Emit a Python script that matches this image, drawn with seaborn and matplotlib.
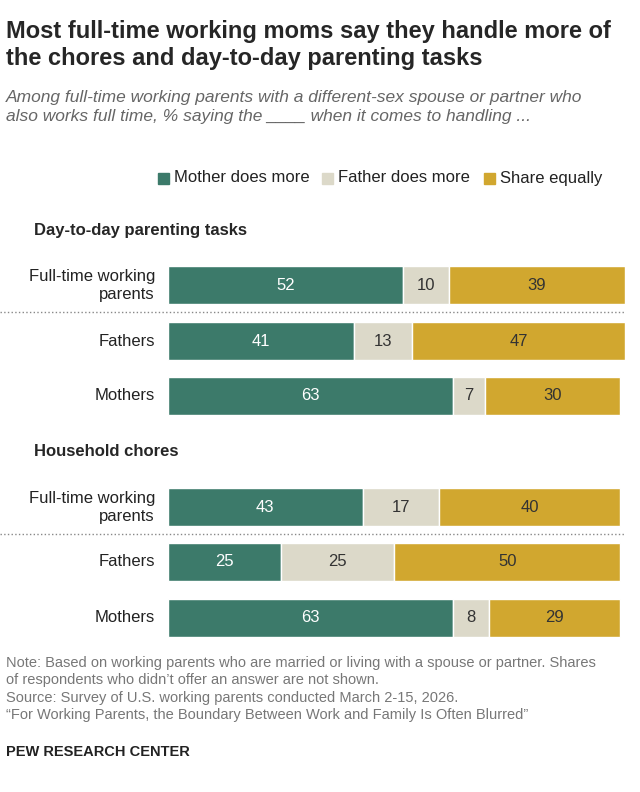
import matplotlib.pyplot as plt
import seaborn as sns

sns.set_style("white")
plt.rcParams['font.family'] = ['Liberation Sans', 'DejaVu Sans']

groups = ["Full-time working\nparents", "Fathers", "Mothers"]
parenting_mother = [52, 41, 63]
parenting_father = [10, 13, 7]
parenting_equal = [39, 47, 30]
chores_mother = [43, 25, 63]
chores_father = [17, 25, 8]
chores_equal = [40, 50, 29]

c_mother = "#3c7a6a"
c_father = "#dcd9c9"
c_equal = "#d1a72f"

W, H = 640, 792
fig = plt.figure(figsize=(6.4, 7.92), dpi=100)
x0, x1 = 168, 625
ax = fig.add_axes([x0 / W, 0, (x1 - x0) / W, 1])
ax.set_xlim(0, 101)
ax.set_ylim(H, 0)
ax.axis("off")

def px(x):
    return (x - x0) / (x1 - x0) * 101

def section(ys, mother, father, equal):
    ax.barh(ys, mother, height=38, color=c_mother)
    ax.barh(ys, father, left=mother, height=38, color=c_father)
    left3 = [m + f for m, f in zip(mother, father)]
    ax.barh(ys, equal, left=left3, height=38, color=c_equal)
    for y, m, f, e, g in zip(ys, mother, father, equal, groups):
        ax.text(m / 2, y, str(m), color="white", ha="center", va="center", fontsize=12)
        ax.text(m + f / 2, y, str(f), color="#333333", ha="center", va="center", fontsize=12)
        ax.text(m + f + e / 2, y, str(e), color="#333333", ha="center", va="center", fontsize=12)
        ax.text(px(155), y, g, ha="right", va="center", fontsize=12, color="#222222",
                linespacing=1.25, clip_on=False)
    ax.plot([px(0), px(625)], [ys[0] + 27, ys[0] + 27], ls=":", color="#888888", lw=1, clip_on=False)

section([285, 341, 396], parenting_mother, parenting_father, parenting_equal)
section([507, 562, 618], chores_mother, chores_father, chores_equal)

ax.text(px(34), 230, "Day-to-day parenting tasks", fontsize=12, fontweight="bold", va="center", clip_on=False)
ax.text(px(34), 452, "Household chores", fontsize=12, fontweight="bold", va="center", clip_on=False)

fig.text(6 / W, 1 - 20 / H, "Most full-time working moms say they handle more of\nthe chores and day-to-day parenting tasks",
         fontsize=17, fontweight="bold", va="top", linespacing=1.2)
fig.text(6 / W, 1 - 90 / H, "Among full-time working parents with a different-sex spouse or partner who\nalso works full time, % saying the ____ when it comes to handling ...",
         fontsize=12.5, style="italic", color="#666666", va="top", linespacing=1.3)

# legend
for xs, lab, c in [(158, "Mother does more", c_mother), (322, "Father does more", c_father), (484, "Share equally", c_equal)]:
    fig.patches.append(plt.Rectangle((xs / W, 1 - 184 / H), 11 / W, 11 / H, color=c, transform=fig.transFigure))
    fig.text((xs + 16) / W, 1 - 178 / H, lab, fontsize=12, va="center", color="#222222")

fig.text(6 / W, 1 - 656 / H, "Note: Based on working parents who are married or living with a spouse or partner. Shares\nof respondents who didn\u2019t offer an answer are not shown.\nSource: Survey of U.S. working parents conducted March 2-15, 2026.\n\u201cFor Working Parents, the Boundary Between Work and Family Is Often Blurred\u201d",
         fontsize=10.5, color="#777777", va="top", linespacing=1.3)
fig.text(6 / W, 1 - 745 / H, "PEW RESEARCH CENTER", fontsize=10.5, fontweight="bold", va="top", color="#222222")

fig.savefig("out.png", dpi=100)
